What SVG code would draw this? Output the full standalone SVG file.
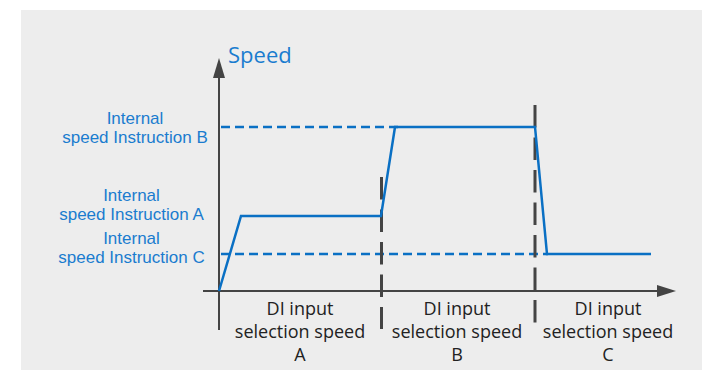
<svg xmlns="http://www.w3.org/2000/svg" width="703" height="370" viewBox="0 0 703 370">
  <style>
    .axis { stroke: #444444; stroke-width: 2; fill: none; }
    .divider { stroke: #444444; stroke-width: 3; fill: none; stroke-dasharray: 22.5 10; }
    .level { stroke: #0a70c4; stroke-width: 2.5; fill: none; stroke-dasharray: 9 5; }
    .speed { stroke: #0a70c4; stroke-width: 2.5; fill: none; stroke-linejoin: miter; }
    .lbl { font-family: "Liberation Sans", Arial, sans-serif; font-size: 17px; fill: #1a7ccf; text-anchor: middle; }
    .title { font-family: "Open Sans", "Segoe UI", sans-serif; font-size: 22px; fill: #1a7ccf; }
    .sel { font-family: "Open Sans", "Segoe UI", sans-serif; font-size: 18px; fill: #222222; text-anchor: middle; }
  </style>

  <!-- panel background -->
  <rect x="21" y="10" width="681" height="360" fill="#ededed"/>

  <!-- axes -->
  <g id="axes">
    <line class="axis" x1="219" y1="330" x2="219" y2="78"/>
    <path d="M213,78 L219,58 L225,78 Z" fill="#444444"/>
    <line class="axis" x1="203" y1="291" x2="657" y2="291"/>
    <path d="M657,285 L676,291 L657,297 Z" fill="#444444"/>
    <text class="title" x="228" y="63">Speed</text>
  </g>

  <!-- reference speed levels and phase dividers -->
  <g id="connectors">
    <line class="level" x1="221" y1="127" x2="398" y2="127"/>
    <line class="level" x1="221" y1="254" x2="548" y2="254"/>
    <line class="divider" x1="381.5" y1="177" x2="381.5" y2="329"/>
    <line class="divider" x1="535" y1="105" x2="535" y2="323"/>
    <!-- speed profile -->
    <polyline class="speed" points="219,291 241,216 381,216 395,127 535,127 547,254 651,254"/>
  </g>

  <!-- level labels -->
  <g id="label-b">
    <text class="lbl" x="135" y="124">Internal</text>
    <text class="lbl" x="135" y="143">speed Instruction B</text>
  </g>
  <g id="label-a">
    <text class="lbl" x="131.5" y="201">Internal</text>
    <text class="lbl" x="131.5" y="220">speed Instruction A</text>
  </g>
  <g id="label-c">
    <text class="lbl" x="131.5" y="244">Internal</text>
    <text class="lbl" x="131.5" y="263">speed Instruction C</text>
  </g>

  <!-- phase captions -->
  <g id="phase-a">
    <text class="sel" x="300" y="315">DI input</text>
    <text class="sel" x="300" y="338">selection speed</text>
    <text class="sel" x="300" y="361">A</text>
  </g>
  <g id="phase-b">
    <text class="sel" x="457" y="315">DI input</text>
    <text class="sel" x="457" y="338">selection speed</text>
    <text class="sel" x="457" y="361">B</text>
  </g>
  <g id="phase-c">
    <text class="sel" x="608" y="315">DI input</text>
    <text class="sel" x="608" y="338">selection speed</text>
    <text class="sel" x="608" y="361">C</text>
  </g>
</svg>
